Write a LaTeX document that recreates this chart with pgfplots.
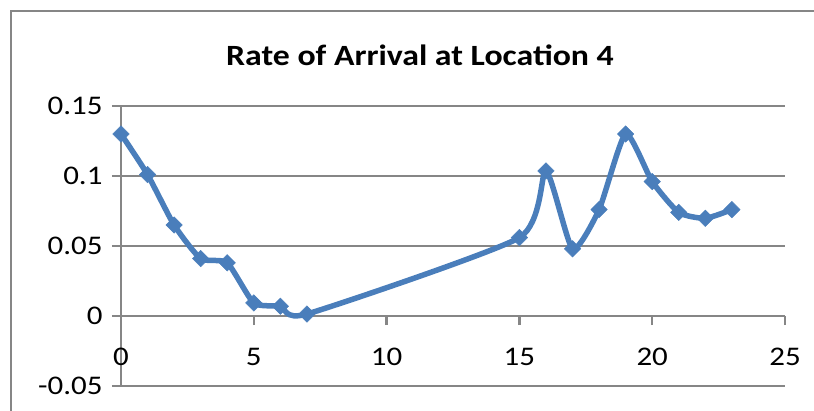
\documentclass[border=0pt]{standalone}
\usepackage{pgfplots}
\pgfplotsset{compat=1.18}
\usepackage{fontspec}
\setmainfont{Carlito}[FakeStretch=1.15]
\definecolor{serblue}{RGB}{74,126,187}
\definecolor{gridgray}{RGB}{134,134,134}
\begin{document}
\begin{tikzpicture}
\useasboundingbox (0,0) rectangle (814bp,411bp);
\clip (0,0) rectangle (814bp,411bp);
\draw[gridgray, line width=2.5bp] (11bp,-10bp) |- (830bp,400bp);
\node[font=\fontsize{29.5}{32}\selectfont\bfseries] at (420bp,356bp) {Rate of Arrival at Location 4};
\begin{axis}[
  at={(121bp,25bp)}, anchor=south west,
  scale only axis, width=664bp, height=280bp,
  xmin=0, xmax=25, ymin=-0.05, ymax=0.15,
  enlargelimits=false,
  axis x line=bottom, axis x line shift=-70bp, axis y line=left,
  axis line style={-, gridgray, line width=2.5bp},
  xtick={0,5,10,15,20,25},
  ytick={-0.05,0,0.05,0.1,0.15},
  yticklabels={-0.05,0,0.05,0.1,0.15},
  xticklabels={0,5,10,15,20,25},
  tick align=outside,
  major tick length=9bp,
  tick style={gridgray, line width=2.5bp},
  ymajorgrids, grid style={gridgray, line width=2.5bp},
  ticklabel style={font=\fontsize{27}{29}\selectfont},
  xticklabel style={yshift=-20bp},
  yticklabel style={xshift=-6bp},
  clip=false,
]
\addplot[serblue, line width=5.5bp, smooth, tension=0.35,
  mark=square*, mark size=5.8bp, mark options={rotate=45, fill=serblue, draw=serblue, line width=0.5bp}]
coordinates {
(0,0.130) (1,0.101) (2,0.065) (3,0.041) (4,0.038) (5,0.0093) (6,0.007) (7,0.0014)
(15,0.056) (16,0.1036) (17,0.048) (18,0.076) (19,0.130) (20,0.096) (21,0.074) (22,0.0698) (23,0.076)
};
\end{axis}
\end{tikzpicture}
\end{document}
